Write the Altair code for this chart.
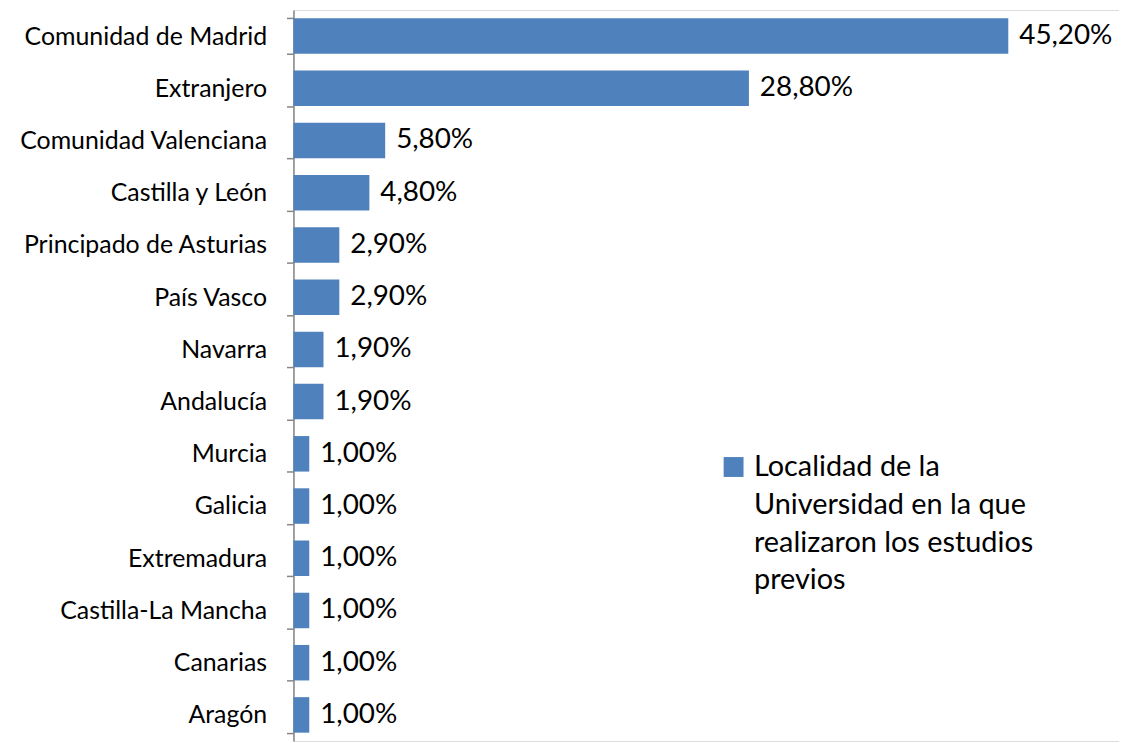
import altair as alt
import pandas as pd

regions = ["Comunidad de Madrid", "Extranjero", "Comunidad Valenciana", "Castilla y León",
           "Principado de Asturias", "País Vasco", "Navarra", "Andalucía", "Murcia",
           "Galicia", "Extremadura", "Castilla-La Mancha", "Canarias", "Aragón"]
values = [45.2, 28.8, 5.8, 4.8, 2.9, 2.9, 1.9, 1.9, 1.0, 1.0, 1.0, 1.0, 1.0, 1.0]
series = "Localidad de la Universidad en la que realizaron los estudios previos"
legend_lines = ["Localidad de la", "Universidad en la que", "realizaron los estudios", "previos"]

df = pd.DataFrame({"region": regions, "value": values, "serie": series})

FONT = "Lato"
y = alt.Y("region:N", sort=regions, title=None,
          scale=alt.Scale(paddingInner=0.32, paddingOuter=0.16),
          axis=alt.Axis(labelFont=FONT, labelFontSize=25, labelColor="#000000",
                        labelLimit=0, labelPadding=20, tickSize=7, tickColor="#868686",
                        tickWidth=1.5, tickBand="extent", domainColor="#868686",
                        domainWidth=1.5))
x = alt.X("value:Q", axis=None, scale=alt.Scale(domain=[0, 52.2], nice=False))

label_expr = "[" + ",".join("'" + s + "'" for s in legend_lines) + "]"

bars = alt.Chart(df).mark_bar(color="#4F81BD").encode(
    x=x, y=y,
    color=alt.Color("serie:N", scale=alt.Scale(range=["#4F81BD"]), title=None,
                    legend=alt.Legend(orient="none", legendX=428, legendY=445,
                                      symbolType="square", symbolSize=400,
                                      symbolStrokeWidth=0, labelFont=FONT,
                                      labelFontSize=29, labelColor="#000000",
                                      labelLimit=0, labelOffset=6,
                                      labelExpr=label_expr))
)

labels = alt.Chart(df).transform_calculate(
    lab="replace(format(datum.value, '.2f'), '.', ',') + '%'"
).mark_text(align="left", baseline="middle", dx=11, font=FONT, fontSize=28,
            color="#000000").encode(x=x, y=y, text="lab:N")

chart = alt.layer(bars, labels).properties(
    width=830, height=735,
    autosize=alt.AutoSizeParams(type="none"),
    padding={"left": 287, "top": 0, "right": 0, "bottom": 0}
).configure_view(stroke=None).configure(
    style={"guide-label": {"lineHeight": 38}}
)

chart.save("out.html", embed_options={"renderer": "svg", "actions": False})
